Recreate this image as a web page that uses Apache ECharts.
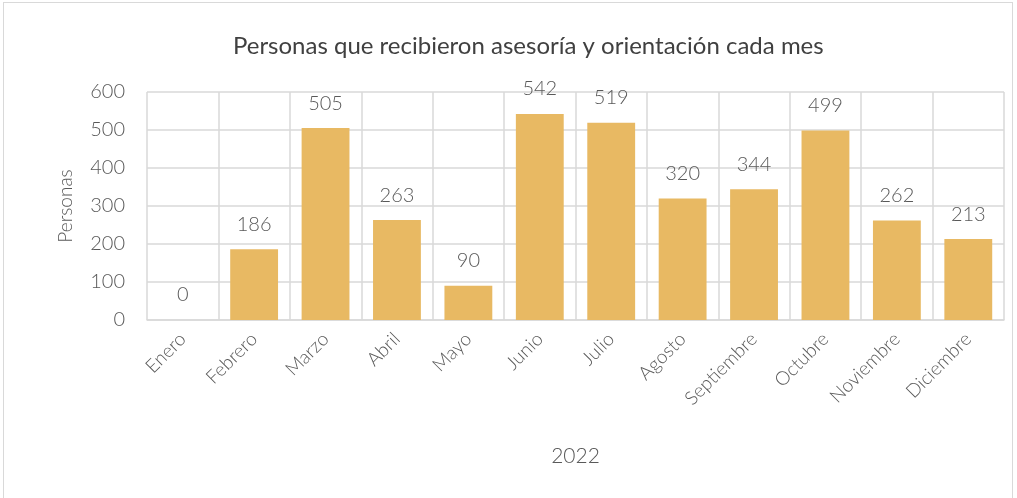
<!DOCTYPE html>
<html>
<head>
<meta charset="utf-8">
<script src="https://cdn.jsdelivr.net/npm/echarts@6/dist/echarts.min.js"></script>
<style>
  html, body { margin: 0; padding: 0; background: #fff; }
  #chart { position: absolute; left: 3px; top: 2px; width: 1010px; height: 500px; border: 1px solid #d9d9d9; box-sizing: border-box; }
</style>
</head>
<body>
<div id="chart"></div>
<script>
// months of 2022
const months = ['Enero', 'Febrero', 'Marzo', 'Abril', 'Mayo', 'Junio', 'Julio',
  'Agosto', 'Septiembre', 'Octubre', 'Noviembre', 'Diciembre'];
const personas = [0, 186, 505, 263, 90, 542, 519, 320, 344, 499, 262, 213];

const font = 'Lato, "Noto Sans", sans-serif';
const chart = echarts.init(document.getElementById('chart'), null, { renderer: 'canvas' });

chart.setOption({
  animation: false,
  textStyle: { fontFamily: font },
  title: {
    text: 'Personas que recibieron asesoría y orientación cada mes',
    left: 224,
    top: 26,
    textStyle: { fontFamily: font, fontSize: 24, fontWeight: 'normal', color: '#404040' }
  },
  grid: { left: 143, right: 8, top: 89, bottom: 181, containLabel: false },
  xAxis: {
    type: 'category',
    data: months,
    name: '2022',
    nameLocation: 'middle',
    nameGap: 126,
    nameTextStyle: { fontSize: 21, color: '#595959', fontFamily: font, fontWeight: 300 },
    axisLine: { lineStyle: { color: '#d9d9d9', width: 1.5 } },
    axisTick: { show: false },
    splitLine: { show: true, lineStyle: { color: '#d9d9d9', width: 1.5 } },
    axisLabel: { rotate: 45, fontSize: 19, color: '#595959', margin: 16, interval: 0, fontWeight: 300 }
  },
  yAxis: {
    type: 'value',
    min: 0,
    max: 600,
    interval: 100,
    name: 'Personas',
    nameLocation: 'middle',
    nameGap: 72,
    nameTextStyle: { fontSize: 19, color: '#595959', fontFamily: font, fontWeight: 300 },
    axisLine: { show: false },
    axisTick: { show: false },
    splitLine: { lineStyle: { color: '#d9d9d9', width: 1.5 } },
    axisLabel: { fontSize: 20, color: '#595959', margin: 22, fontWeight: 300 }
  },
  series: [{
    type: 'bar',
    data: personas,
    barCategoryGap: '33%',
    itemStyle: { color: '#E8B963' },
    label: {
      show: true,
      position: 'top',
      distance: 15,
      fontSize: 20,
      color: '#595959',
      fontWeight: 300
    }
  }]
});
</script>
</body>
</html>
